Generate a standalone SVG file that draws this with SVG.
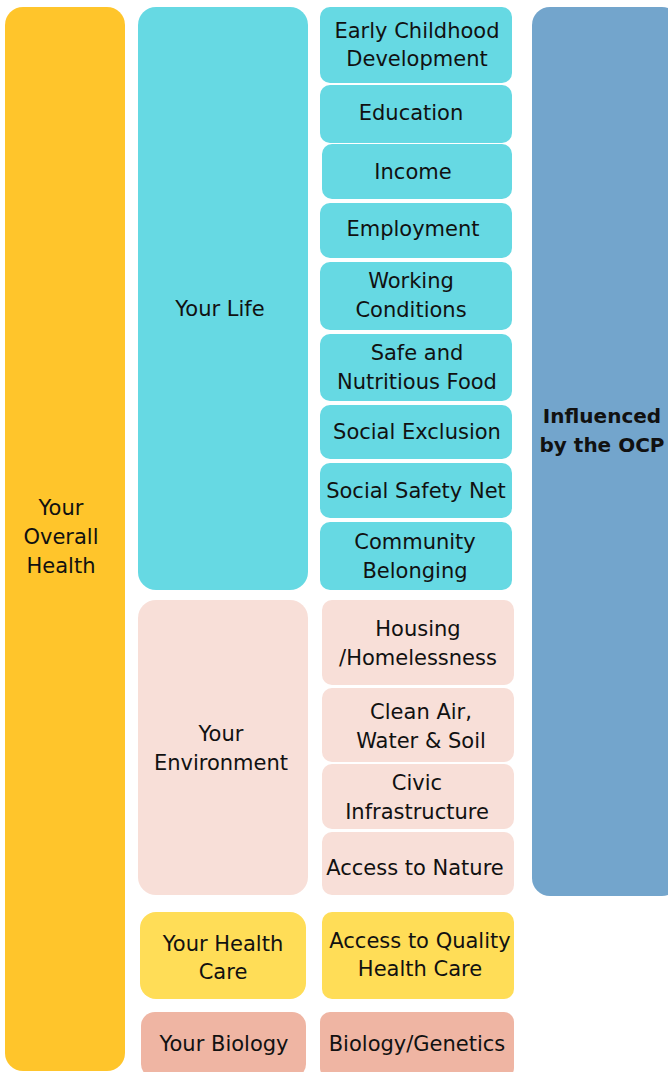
<svg xmlns="http://www.w3.org/2000/svg" width="668" height="1072" viewBox="0 0 668 1072">
<style>
text{font-family:"DejaVu Sans","Noto Sans",sans-serif;font-size:21px;fill:#111;text-anchor:middle;dominant-baseline:central}
.b{font-weight:600;font-size:20px}
.y{fill:#FFC52B}.c{fill:#66D9E3}.bl{fill:#73A5CC}.p{fill:#F8DFD8}.ly{fill:#FFDD57}.s{fill:#EFB5A3}
</style>
<rect width="668" height="1072" fill="#fff"/>
<g id="overall"><rect class="y" x="5" y="7" width="120" height="1064" rx="18"/><text x="61" y="508">Your</text><text x="61" y="537">Overall</text><text x="61" y="566">Health</text></g>
<g id="life"><rect class="c" x="138" y="7" width="170" height="583" rx="18"/><text x="220" y="309">Your Life</text></g>
<g id="environment"><rect class="p" x="138" y="600" width="170" height="295" rx="18"/><text x="221" y="734">Your</text><text x="221" y="763">Environment</text></g>
<g id="healthcare"><rect class="ly" x="140" y="912" width="166" height="87" rx="16"/><text x="223" y="944">Your Health</text><text x="223" y="972">Care</text></g>
<g id="biology"><rect class="s" x="141" y="1012" width="165" height="66" rx="14"/><text x="224" y="1044">Your Biology</text></g>
<g id="ocp"><rect class="bl" x="532" y="7" width="148" height="889" rx="18"/><text class="b" x="602" y="416">Influenced</text><text class="b" x="602" y="445">by the OCP</text></g>
<g id="ecd"><rect class="c" x="320" y="7" width="192" height="76" rx="10"/><text x="417" y="31">Early Childhood</text><text x="417" y="59">Development</text></g>
<g id="education"><rect class="c" x="320" y="85" width="192" height="58" rx="10"/><text x="411" y="113">Education</text></g>
<g id="income"><rect class="c" x="322" y="144" width="190" height="55" rx="10"/><text x="413" y="172">Income</text></g>
<g id="employment"><rect class="c" x="320" y="203" width="192" height="55" rx="10"/><text x="413" y="229">Employment</text></g>
<g id="working"><rect class="c" x="320" y="262" width="192" height="68" rx="10"/><text x="411" y="281">Working</text><text x="411" y="310">Conditions</text></g>
<g id="food"><rect class="c" x="320" y="334" width="192" height="67" rx="10"/><text x="417" y="353">Safe and</text><text x="417" y="382">Nutritious Food</text></g>
<g id="exclusion"><rect class="c" x="320" y="405" width="192" height="54" rx="10"/><text x="417" y="432">Social Exclusion</text></g>
<g id="safetynet"><rect class="c" x="320" y="463" width="192" height="55" rx="10"/><text x="416" y="491">Social Safety Net</text></g>
<g id="community"><rect class="c" x="320" y="522" width="192" height="68" rx="10"/><text x="415" y="542">Community</text><text x="415" y="571">Belonging</text></g>
<g id="housing"><rect class="p" x="322" y="600" width="192" height="85" rx="10"/><text x="418" y="629">Housing</text><text x="418" y="658">/Homelessness</text></g>
<g id="cleanair"><rect class="p" x="322" y="688" width="192" height="74" rx="10"/><text x="421" y="712">Clean Air,</text><text x="421" y="741">Water &amp; Soil</text></g>
<g id="civic"><rect class="p" x="322" y="764" width="192" height="65" rx="10"/><text x="417" y="783">Civic</text><text x="417" y="812">Infrastructure</text></g>
<g id="nature"><rect class="p" x="322" y="832" width="192" height="63" rx="10"/><text x="415" y="868">Access to Nature</text></g>
<g id="qualitycare"><rect class="ly" x="322" y="912" width="192" height="87" rx="10"/><text x="420" y="941">Access to Quality</text><text x="420" y="969">Health Care</text></g>
<g id="genetics"><rect class="s" x="320" y="1012" width="194" height="66" rx="10"/><text x="417" y="1044">Biology/Genetics</text></g>
<g id="connectors"></g>
</svg>
